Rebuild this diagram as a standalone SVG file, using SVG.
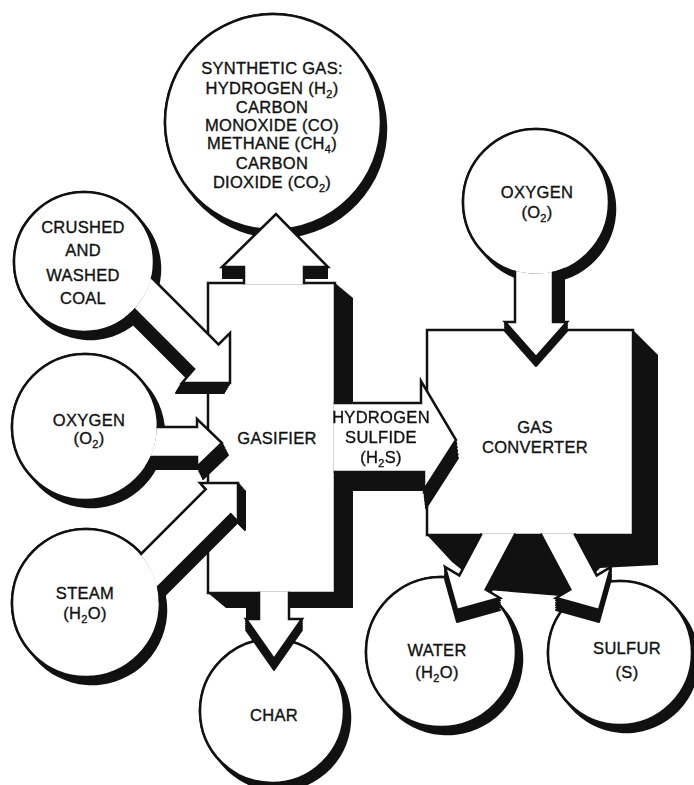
<svg xmlns="http://www.w3.org/2000/svg" width="694" height="785" viewBox="0 0 694 785">
<style>
 .w{fill:#fff;stroke:#111;stroke-width:2.5;stroke-linejoin:miter}
 .sh{fill:#111;stroke:#111;stroke-width:2;stroke-linejoin:round}
 .blk{fill:#111}
 .cs{stroke:#111;stroke-linecap:round;fill:none}
 text{font-family:"Liberation Sans",Arial,sans-serif;font-size:16.5px;fill:#111;stroke:#111;stroke-width:0.35px;text-anchor:middle;letter-spacing:0.3px}
 .sub{font-size:11px}
</style>
<defs>
 <path id="a-coal" d="M140,266 L218.5,344.5 L230,333 L230,383 L182,383 L194,369 L110,285"/>
 <path id="a-oxy1" d="M140,427 L197,427 L197,419 L222,443 L197,467 L197,457 L140,457"/>
 <path id="a-steam" d="M130,565 L205.75,489.25 L200,483 L238,483 L238,522 L230.75,514.25 L140,605"/>
 <path id="a-h2s" d="M333.7,403 L421,403 L421,381 L456,440 L424,490 L424,472 L333.7,472"/>
 <path id="s-h2s" d="M335,403 L421,403 L421,381 L456,440 L424,490 L424,472 L335,472 Z"/>
 <path id="a-syn" d="M244,284.3 L244,267 L222,267 L276,214 L328,267 L304,267 L304,284.3"/>
 <path id="a-char" d="M259,591.7 L259,619 L246,619 L274,659 L302,619 L289,619 L289,591.7"/>
 <path id="s-char" d="M246,619 L274,659 L302,619 Z"/>
 <path id="a-water" d="M481.6,533.7 L459.3,575.4 L445,567 L457,610 L500,598 L485.7,589.5 L515.5,533.7"/>
 <path id="s-water" d="M480,537 L459.3,575.4 L445,567 L457,610 L500,598 L485.7,589.5 L514,537 Z"/>
 <path id="a-sulfur" d="M574.4,533.7 L596.7,575.4 L611,567 L599,610 L556,598 L570.3,589.5 L540.5,533.7"/>
 <path id="s-sulfur" d="M576,537 L596.7,575.4 L611,567 L599,610 L556,598 L570.3,589.5 L542,537 Z"/>
 <path id="a-oxy2" d="M515,250 L515,322 L505,322 L536,357 L567,322 L553,322 L553,250"/>
 <path id="s-oxy2" d="M505,322 L536,357 L567,322 Z"/>
 <mask id="m-src" maskUnits="userSpaceOnUse" x="0" y="0" width="694" height="785">
  <rect width="694" height="785" fill="#fff"/>
  <circle cx="84" cy="262" r="68.7" fill="#000"/>
  <circle cx="85" cy="427" r="71.7" fill="#000"/>
  <circle cx="86" cy="603" r="72.7" fill="#000"/>
  <circle cx="536" cy="202" r="71.7" fill="#000"/>
 </mask>
</defs>
<rect width="694" height="785" fill="#fff"/>

<g id="shadows">
 <polygon class="blk" points="208,283 335,283 353,298 353,608 226,608 208,593"/>
 <polygon class="blk" points="633,330 658,355 658,565 600,568 573,597 487,590 452,562 427,535"/>
 <line class="cs" x1="273" y1="122" x2="278" y2="129" stroke-width="218.5"/>
 <line class="cs" x1="84" y1="262" x2="90" y2="269" stroke-width="142.5"/>
 <line class="cs" x1="85" y1="427" x2="91" y2="434" stroke-width="148.5"/>
 <line class="cs" x1="86" y1="603" x2="92" y2="610" stroke-width="150.5"/>
 <line class="cs" x1="272" y1="711" x2="278" y2="718" stroke-width="146.5"/>
 <line class="cs" x1="536" y1="202" x2="542" y2="209" stroke-width="148.5"/>
 <line class="cs" x1="441" y1="652" x2="447" y2="659" stroke-width="152.5"/>
 <line class="cs" x1="620" y1="653" x2="626" y2="660" stroke-width="146.5"/>
</g>

<g id="gasifier">
 <rect class="w" x="208" y="283" width="127" height="310"/>
 <text x="277" y="444">GASIFIER</text>
</g>
<g id="gas-converter">
 <rect class="w" x="427" y="330" width="206" height="205"/>
 <text x="535" y="433">GAS</text>
 <text x="535" y="453">CONVERTER</text>
</g>

<g id="synthetic-gas">
 <circle class="w" cx="273" cy="122" r="108"/>
 <text x="272" y="74">SYNTHETIC GAS:</text>
 <text x="272" y="94">HYDROGEN (H<tspan class="sub" dy="4">2</tspan><tspan dy="-4">)</tspan></text>
 <text x="272" y="113">CARBON</text>
 <text x="272" y="131">MONOXIDE (CO)</text>
 <text x="272" y="149">METHANE (CH<tspan class="sub" dy="4">4</tspan><tspan dy="-4">)</tspan></text>
 <text x="272" y="169">CARBON</text>
 <text x="272" y="188">DIOXIDE (CO<tspan class="sub" dy="4">2</tspan><tspan dy="-4">)</tspan></text>
</g>
<g id="coal">
 <circle class="w" cx="84" cy="262" r="70"/>
 <text x="83" y="233">CRUSHED</text>
 <text x="83" y="256">AND</text>
 <text x="83" y="281">WASHED</text>
 <text x="83" y="304">COAL</text>
</g>
<g id="oxygen-gasifier">
 <circle class="w" cx="85" cy="427" r="73"/>
 <text x="89" y="426">OXYGEN</text>
 <text x="89" y="444">(O<tspan class="sub" dy="4">2</tspan><tspan dy="-4">)</tspan></text>
</g>
<g id="steam">
 <circle class="w" cx="86" cy="603" r="74"/>
 <text x="85" y="599">STEAM</text>
 <text x="85" y="619">(H<tspan class="sub" dy="4">2</tspan><tspan dy="-4">O)</tspan></text>
</g>
<g id="char">
 <circle class="w" cx="272" cy="711" r="72"/>
 <text x="274" y="721">CHAR</text>
</g>
<g id="oxygen-converter">
 <circle class="w" cx="536" cy="202" r="73"/>
 <text x="537" y="198">OXYGEN</text>
 <text x="537" y="218">(O<tspan class="sub" dy="4">2</tspan><tspan dy="-4">)</tspan></text>
</g>
<g id="water">
 <circle class="w" cx="441" cy="652" r="75"/>
 <text x="437" y="656">WATER</text>
 <text x="437" y="678">(H<tspan class="sub" dy="4">2</tspan><tspan dy="-4">O)</tspan></text>
</g>
<g id="sulfur">
 <circle class="w" cx="620" cy="653" r="72"/>
 <text x="627" y="654">SULFUR</text>
 <text x="627" y="678">(S)</text>
</g>

<g id="connectors" mask="url(#m-src)">
 <g class="sh">
  <use href="#a-coal" transform="translate(-1.2,2)"/><use href="#a-coal" transform="translate(-2.4,4)"/><use href="#a-coal" transform="translate(-3.6,6)"/><use href="#a-coal" transform="translate(-4.8,8)"/><use href="#a-coal" transform="translate(-6,10)"/>
 </g>
 <use href="#a-coal" class="w"/>
 <g class="sh">
  <use href="#a-oxy1" transform="translate(1.2,2.4)"/><use href="#a-oxy1" transform="translate(2.4,4.8)"/><use href="#a-oxy1" transform="translate(3.6,7.2)"/><use href="#a-oxy1" transform="translate(4.8,9.6)"/><use href="#a-oxy1" transform="translate(6,12)"/>
 </g>
 <use href="#a-oxy1" class="w"/>
 <g class="sh">
  <use href="#a-steam" transform="translate(1.4,1.6)"/><use href="#a-steam" transform="translate(2.8,3.2)"/><use href="#a-steam" transform="translate(4.2,4.8)"/><use href="#a-steam" transform="translate(5.6,6.4)"/><use href="#a-steam" transform="translate(7,8)"/>
 </g>
 <use href="#a-steam" class="w"/>
 <g class="sh">
  <use href="#s-h2s" transform="translate(0.4,3.6)"/><use href="#s-h2s" transform="translate(0.8,7.2)"/><use href="#s-h2s" transform="translate(1.2,10.8)"/><use href="#s-h2s" transform="translate(1.6,14.4)"/><use href="#s-h2s" transform="translate(2,18)"/>
 </g>
 <use href="#a-h2s" class="w"/>
 <rect class="blk" x="222" y="267" width="106" height="12"/>
 <use href="#a-syn" class="w"/>
 <rect class="blk" x="246" y="600" width="13" height="20"/>
 <g class="sh">
  <use href="#s-char" transform="translate(0,2.2)"/><use href="#s-char" transform="translate(0,4.4)"/><use href="#s-char" transform="translate(0,6.6)"/><use href="#s-char" transform="translate(0,8.8)"/><use href="#s-char" transform="translate(0,11)"/>
 </g>
 <use href="#a-char" class="w"/>
 <g class="sh">
  <use href="#s-water" transform="translate(0,2.4)"/><use href="#s-water" transform="translate(0,4.8)"/><use href="#s-water" transform="translate(0,7.2)"/><use href="#s-water" transform="translate(0,9.6)"/><use href="#s-water" transform="translate(0,12)"/>
  <use href="#s-sulfur" transform="translate(0,2.4)"/><use href="#s-sulfur" transform="translate(0,4.8)"/><use href="#s-sulfur" transform="translate(0,7.2)"/><use href="#s-sulfur" transform="translate(0,9.6)"/><use href="#s-sulfur" transform="translate(0,12)"/>
 </g>
 <use href="#a-water" class="w"/>
 <use href="#a-sulfur" class="w"/>
 <rect class="blk" x="553" y="250" width="12" height="72"/>
 <g class="sh">
  <use href="#s-oxy2" transform="translate(0,1.8)"/><use href="#s-oxy2" transform="translate(0,3.6)"/><use href="#s-oxy2" transform="translate(0,5.4)"/><use href="#s-oxy2" transform="translate(0,7.2)"/><use href="#s-oxy2" transform="translate(0,9)"/>
 </g>
 <use href="#a-oxy2" class="w"/>
 <text x="381" y="423">HYDROGEN</text>
 <text x="381" y="443">SULFIDE</text>
 <text x="381" y="463">(H<tspan class="sub" dy="4">2</tspan><tspan dy="-4">S)</tspan></text>
</g>
</svg>
